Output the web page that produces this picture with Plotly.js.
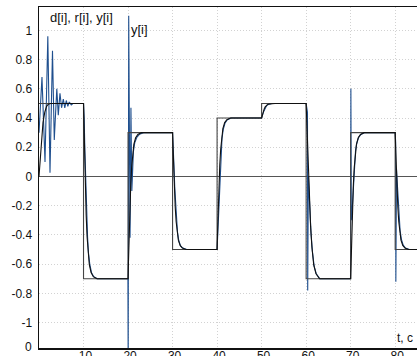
<!DOCTYPE html>
<html>
<head>
<meta charset="utf-8">
<script src="https://cdn.plot.ly/plotly-3.0.1.min.js"></script>
<style>html,body{margin:0;padding:0;background:#fff;overflow:hidden}</style>
</head>
<body>
<div id="chart" style="width:417px;height:356px"></div>
<script>
// reference step r[i]
const tR = [0, 10, 20, 30, 40, 50, 60, 70, 80, 85];
const vR = [0.5, -0.7, 0.3, -0.5, 0.4, 0.5, -0.7, 0.3, -0.5, -0.5];

// output y[i] (black smooth)
const tY = [0, 0.2, 0.5, 0.9, 1.3, 1.7, 2.1, 2.6,
  10, 10.1, 10.25, 10.4, 10.6, 10.8, 11.0, 11.3, 11.7, 12.2, 13.0,
  20, 20.1, 20.25, 20.4, 20.6, 20.8, 21.0, 21.3, 21.7, 22.2, 23.0,
  30, 30.1, 30.25, 30.4, 30.6, 30.8, 31.0, 31.3, 31.7, 32.2, 33.0,
  40, 40.1, 40.25, 40.4, 40.6, 40.8, 41.0, 41.3, 41.7, 42.2, 43.0,
  50, 50.1, 50.25, 50.4, 50.6, 50.8, 51.0, 51.3, 51.7, 52.2, 53.0,
  60, 60.1, 60.25, 60.4, 60.6, 60.8, 61.0, 61.3, 61.7, 62.2, 63.0,
  70, 70.1, 70.25, 70.4, 70.6, 70.8, 71.0, 71.3, 71.7, 72.2, 73.0,
  80, 80.1, 80.25, 80.4, 80.6, 80.8, 81.0, 81.3, 81.7, 82.2, 83.0, 85];
const vY = [0, 0.1, 0.24, 0.37, 0.44, 0.48, 0.495, 0.5,
  0.5, 0.356, 0.116, -0.076, -0.268, -0.412, -0.52, -0.604, -0.658, -0.686, -0.7,
  -0.7, -0.58, -0.38, -0.22, -0.06, 0.06, 0.15, 0.22, 0.265, 0.288, 0.3,
  0.3, 0.204, 0.044, -0.084, -0.212, -0.308, -0.38, -0.436, -0.472, -0.49, -0.5,
  -0.5, -0.392, -0.212, -0.068, 0.076, 0.184, 0.265, 0.328, 0.369, 0.389, 0.4,
  0.4, 0.412, 0.432, 0.448, 0.464, 0.476, 0.485, 0.492, 0.4965, 0.499, 0.5,
  0.5, 0.404, 0.26, 0.116, -0.064, -0.22, -0.34, -0.484, -0.604, -0.664, -0.7,
  -0.7, -0.58, -0.38, -0.22, -0.06, 0.06, 0.15, 0.22, 0.265, 0.288, 0.3,
  0.3, 0.204, 0.044, -0.084, -0.212, -0.308, -0.38, -0.436, -0.472, -0.49, -0.5, -0.5];

// d[i] (blue, with spikes)
const tD = [0, 0.67, 1.35, 1.98, 2.47, 3.03, 3.43, 4.0, 4.33, 4.71, 5.07, 5.46, 5.79, 6.13, 6.47, 6.8, 7.25, 7.7,
  10.0, 10.15, 10.3, 10.5, 10.7, 10.9, 11.1, 11.4, 11.8, 12.3, 13.1,
  19.97, 20.03, 20.15, 20.45, 20.65, 20.85, 21.0, 21.2, 21.5, 22.0, 22.6, 23.5,
  30.0, 30.15, 30.3, 30.5, 30.7, 30.9, 31.1, 31.4, 31.8, 32.3, 33.2,
  40.0, 40.15, 40.3, 40.5, 40.7, 40.9, 41.1, 41.4, 41.8, 42.3, 43.2,
  50.0, 50.15, 50.3, 50.5, 50.7, 50.9, 51.1, 51.4, 51.8, 52.3, 53.2,
  60.0, 60.3, 60.35, 60.5, 60.7, 60.9, 61.1, 61.4, 61.8, 62.3, 63.1,
  69.97, 70.05, 70.15, 70.3, 70.5, 70.7, 70.9, 71.1, 71.4, 71.8, 72.3, 73.1,
  80.0, 80.1, 80.15, 80.3, 80.5, 80.7, 80.9, 81.1, 81.4, 81.8, 82.3, 83.2, 85];
const vD = [0.3, 0.68, 0.10, 0.96, 0.025, 0.86, 0.25, 0.6, 0.42, 0.57, 0.47, 0.53, 0.47, 0.52, 0.48, 0.51, 0.49, 0.5,
  0.5, 0.4, 0.18, -0.07, -0.27, -0.41, -0.52, -0.6, -0.66, -0.686, -0.7,
  -0.7, -1.3, 1.1, -0.42, 0.47, -0.1, 0.05, 0.17, 0.23, 0.27, 0.29, 0.3,
  0.3, 0.22, 0.08, -0.08, -0.21, -0.31, -0.38, -0.44, -0.475, -0.49, -0.5,
  -0.5, -0.4, -0.22, -0.07, 0.07, 0.18, 0.26, 0.325, 0.367, 0.388, 0.4,
  0.4, 0.41, 0.43, 0.447, 0.463, 0.475, 0.484, 0.492, 0.496, 0.499, 0.5,
  0.5, 0.44, -0.78, 0.0, -0.16, -0.29, -0.39, -0.51, -0.615, -0.668, -0.7,
  -0.7, 0.6, -0.3, -0.25, -0.12, 0.02, 0.12, 0.18, 0.23, 0.268, 0.288, 0.3,
  0.3, 0.24, -0.72, 0.05, -0.06, -0.19, -0.29, -0.37, -0.43, -0.47, -0.49, -0.5, -0.5];

const xTickVals = [10, 20, 30, 40, 50, 60, 70, 80];
const xTickText = ['10', '20', '30', '40', '50', '60', '70', '80'];
const yTickVals = [1, 0.8, 0.6, 0.4, 0.2, 0, -0.2, -0.4, -0.6, -0.8, -1];
const yTickText = ['1', '0.8', '0.6', '0.4', '0.2', '0', '-0.2', '-0.4', '-0.6', '-0.8', '-1'];

const FONT = 'Liberation Sans, Arial, sans-serif';

const traces = [
  {x: tD, y: vD, type: 'scatter', mode: 'lines', name: 'd[i]',
   line: {color: '#1f4f8e', width: 1.1}, hoverinfo: 'skip'},
  {x: tR, y: vR, type: 'scatter', mode: 'lines', name: 'r[i]',
   line: {color: '#444444', width: 1.1, shape: 'hv'}, hoverinfo: 'skip'},
  {x: tY, y: vY, type: 'scatter', mode: 'lines', name: 'y[i]',
   line: {color: '#111111', width: 1.1}, hoverinfo: 'skip'}
];

const layout = {
  width: 417, height: 356,
  margin: {l: 39, r: 0, t: 7, b: 8, pad: 0},
  paper_bgcolor: '#ffffff', plot_bgcolor: '#ffffff',
  showlegend: false,
  font: {family: FONT, size: 12, color: '#111'},
  xaxis: {
    range: [0, 84.9], tickmode: 'array', tickvals: xTickVals, ticktext: xTickText,
    ticks: '', showgrid: true, gridcolor: '#d2d2d2', griddash: '1px,2px', gridwidth: 1,
    showline: true, linecolor: '#111', linewidth: 1.5, mirror: true,
    zeroline: false, ticklabelstandoff: -4, ticklabelshift: 2,
    tickfont: {family: FONT, size: 12, color: '#111'}
  },
  yaxis: {
    range: [-1.174, 1.16], tickmode: 'array', tickvals: yTickVals, ticktext: yTickText,
    ticks: '', showgrid: true, gridcolor: '#d2d2d2', griddash: '1px,2px', gridwidth: 1,
    showline: true, linecolor: '#111', linewidth: 1.5,
    zeroline: true, zerolinecolor: '#555', zerolinewidth: 1,
    ticklabelstandoff: 3,
    tickfont: {family: FONT, size: 12, color: '#111'}
  },
  annotations: [
    {xref: 'paper', yref: 'paper', x: 0.024, y: 0.970, xanchor: 'left', yanchor: 'middle',
     text: 'd[i], r[i], y[i]', showarrow: false, font: {family: FONT, size: 13, color: '#111'}},
    {xref: 'paper', yref: 'paper', x: 0.238, y: 0.9346, xanchor: 'left', yanchor: 'middle',
     text: 'y[i]', showarrow: false, font: {family: FONT, size: 13, color: '#111'}},
    {xref: 'paper', yref: 'paper', x: 0.995, y: 0.028, xanchor: 'right', yanchor: 'middle',
     text: 't, c', showarrow: false, font: {family: FONT, size: 12, color: '#111'}},
    {xref: 'paper', yref: 'paper', x: -0.012, y: 0.004, xanchor: 'right', yanchor: 'middle',
     text: '0', showarrow: false, font: {family: FONT, size: 12, color: '#111'}}
  ]
};

Plotly.newPlot('chart', traces, layout, {staticPlot: true, displayModeBar: false});
</script>
</body>
</html>
